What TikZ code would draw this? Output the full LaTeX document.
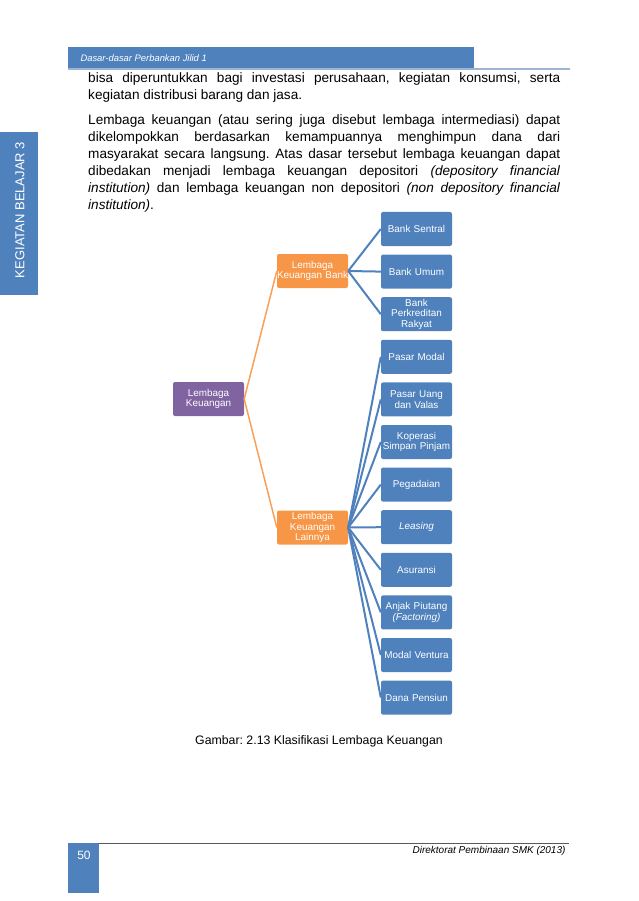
\documentclass[tikz,border=0pt]{standalone}
\usepackage{fontspec}
\setmainfont{Liberation Sans}
\definecolor{biru}{HTML}{4F81BD}
\definecolor{oranye}{HTML}{F79646}
\definecolor{ungu}{HTML}{8064A2}
\definecolor{garisatas}{HTML}{9DB5D5}
\frenchspacing
\begin{document}
\begin{tikzpicture}[x=1pt,y=-1pt,
  kotak/.style={rounded corners=2pt, minimum width=71pt, minimum height=34pt,
    inner sep=0pt, text width=71pt, align=center, text=white,
    font=\fontsize{9.9}{10.6}\selectfont},
  kotakbiru/.style={kotak, fill=biru},
  kotakoranye/.style={kotak, fill=oranye},
  kotakungu/.style={kotak, fill=ungu},
  isi/.style={inner sep=0pt, anchor=north west, text width=472pt, align=justify,
    font=\fontsize{13.6}{17}\selectfont}]
\useasboundingbox (0,0) rectangle (638,901);

% kepala halaman
\fill[biru] (68,47) rectangle (474,69);
\draw[garisatas, line width=1.2pt] (68,69) -- (570,69);
\node[anchor=west, text=white, font=\fontsize{9.4}{11}\selectfont\itshape] (kepala) at (77,58) {Dasar-dasar Perbankan Jilid 1};
\fill[biru] (0,132) rectangle (38,295);
\node[rotate=90, text=white, font=\fontsize{13}{15}\selectfont] (sisi) at (20,210) {KEGIATAN BELAJAR 3};

% teks
\node[isi] (par1) at (88,72) {bisa diperuntukkan bagi investasi perusahaan, kegiatan konsumsi, serta\linebreak kegiatan distribusi barang dan jasa.};
\node[isi] (par2) at (88,114) {Lembaga keuangan (atau sering juga disebut lembaga intermediasi) dapat\linebreak dikelompokkan berdasarkan kemampuannya menghimpun dana dari\linebreak masyarakat secara langsung. Atas dasar tersebut lembaga keuangan dapat\linebreak dibedakan menjadi lembaga keuangan depositori \textit{(depository financial}\linebreak \textit{institution)} dan lembaga keuangan non depositori \textit{(non depository financial}\linebreak \textit{institution)}.};

% bagan
\node[kotakungu] (1) at (208.5,399) {Lembaga\\Keuangan};
\node[kotakoranye] (2) at (312.5,271) {Lembaga\\\makebox[71pt]{Keuangan Bank}};
\node[kotakoranye] (3) at (312.5,527.5) {Lembaga\\Keuangan\\Lainnya};
\node[kotakbiru] (4) at (416.5,229) {Bank Sentral};
\node[kotakbiru] (5) at (416.5,271.6) {Bank Umum};
\node[kotakbiru] (6) at (416.5,314.2) {Bank\\Perkreditan\\Rakyat};
\node[kotakbiru] (7) at (416.5,356.8) {Pasar Modal};
\node[kotakbiru] (8) at (416.5,399.4) {Pasar Uang\\dan Valas};
\node[kotakbiru] (9) at (416.5,442) {Koperasi\\Simpan Pinjam};
\node[kotakbiru] (10) at (416.5,484.6) {Pegadaian};
\node[kotakbiru] (11) at (416.5,527.2) {\textit{Leasing}};
\node[kotakbiru] (12) at (416.5,569.8) {Asuransi};
\node[kotakbiru] (13) at (416.5,612.4) {Anjak Piutang\\\textit{(Factoring)}};
\node[kotakbiru] (14) at (416.5,655) {Modal Ventura};
\node[kotakbiru] (15) at (416.5,697.6) {Dana Pensiun};

\path[draw,oranye!90,line width=1.5pt] (1.east) -- (2.west);
\path[draw,oranye!90,line width=1.5pt] (1.east) -- (3.west);
\path[draw,biru,line width=2pt] (2.east) -- (4.west);
\path[draw,biru,line width=2pt] (2.east) -- (5.west);
\path[draw,biru,line width=2pt] (2.east) -- (6.west);
\path[draw,biru,line width=2pt] (3.east) -- (7.west);
\path[draw,biru,line width=2pt] (3.east) -- (8.west);
\path[draw,biru,line width=2pt] (3.east) -- (9.west);
\path[draw,biru,line width=2pt] (3.east) -- (10.west);
\path[draw,biru,line width=2pt] (3.east) -- (11.west);
\path[draw,biru,line width=2pt] (3.east) -- (12.west);
\path[draw,biru,line width=2pt] (3.east) -- (13.west);
\path[draw,biru,line width=2pt] (3.east) -- (14.west);
\path[draw,biru,line width=2pt] (3.east) -- (15.west);

\node[font=\fontsize{12.3}{14}\selectfont] (judul) at (319,741) {Gambar: 2.13 Klasifikasi Lembaga Keuangan};

% kaki halaman
\fill[biru] (68,843) rectangle (99,893);
\node[text=white, font=\fontsize{12}{14}\selectfont] (hal) at (84,855) {50};
\draw[black!65, line width=0.9pt] (99,843) -- (569,843);
\node[anchor=east, font=\fontsize{10}{12}\selectfont\itshape] (kaki) at (569,851) {Direktorat Pembinaan SMK (2013)};
\end{tikzpicture}
\end{document}
